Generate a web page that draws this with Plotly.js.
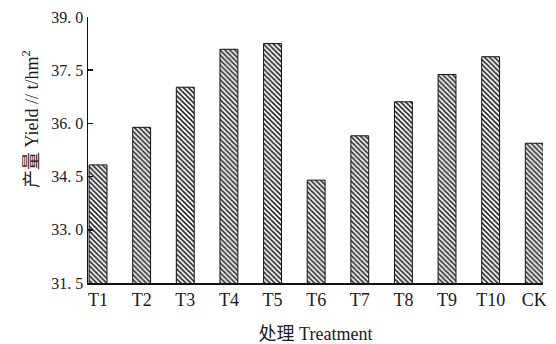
<!DOCTYPE html>
<html>
<head>
<meta charset="utf-8">
<script src="https://cdn.plot.ly/plotly-3.0.1.min.js"></script>
<style>html,body{margin:0;padding:0;background:#fff;}#chart{width:556px;height:344px;}</style>
</head>
<body>
<div id="chart"></div>
<script>
const treatments = ["T1","T2","T3","T4","T5","T6","T7","T8","T9","T10","CK"];
const yieldValues = [34.83, 35.89, 37.02, 38.09, 38.25, 34.40, 35.65, 36.61, 37.38, 37.88, 35.44];
const yTickVals = [31.5, 33.0, 34.5, 36.0, 37.5, 39.0];
const yTickText = ["31. 5", "33. 0", "34. 5", "36. 0", "37. 5", "39. 0"];
const xTitle = "处理 Treatment";
const yTitle = "产量 Yield // t/hm<sup>2</sup>";

const fontFam = "Liberation Serif, 'Noto Sans CJK SC', serif";

const trace = {
  type: "bar",
  x: treatments,
  y: yieldValues,
  width: 0.41,
  marker: {
    color: "#ffffff",
    line: {color: "#111111", width: 1},
    pattern: {shape: "\\", fgcolor: "#222222", bgcolor: "#ffffff", size: 3.5, solidity: 0.45}
  },
  hoverinfo: "x+y"
};

const layout = {
  width: 556,
  height: 344,
  margin: {l: 88, r: 13, t: 17, b: 61},
  paper_bgcolor: "#ffffff",
  plot_bgcolor: "#ffffff",
  showlegend: false,
  font: {family: fontFam, color: "#1a1a1a", size: 16},
  xaxis: {
    type: "category",
    range: [-0.23, 10.2],
    showline: true,
    linecolor: "#111111",
    linewidth: 1.5,
    ticks: "",
    showgrid: false,
    zeroline: false,
    tickfont: {family: fontFam, size: 18, color: "#1a1a1a"},
    title: {text: xTitle, font: {family: fontFam, size: 18, color: "#1a1a1a"}, standoff: 18}
  },
  yaxis: {
    range: [31.5, 39.0],
    tickvals: yTickVals,
    ticktext: yTickText,
    showline: true,
    linecolor: "#111111",
    linewidth: 1.5,
    ticks: "inside",
    ticklen: 5,
    tickwidth: 1.5,
    tickcolor: "#111111",
    showgrid: false,
    zeroline: false,
    tickfont: {family: fontFam, size: 16, color: "#1a1a1a"}
  },
  annotations: [{
    text: yTitle,
    xref: "paper", yref: "paper",
    x: -0.125, y: 0.617,
    xanchor: "center", yanchor: "middle",
    textangle: -90,
    showarrow: false,
    font: {family: fontFam, size: 18, color: "#1a1a1a"}
  }]
};

Plotly.newPlot("chart", [trace], layout, {displayModeBar: false, staticPlot: true});
</script>
</body>
</html>
